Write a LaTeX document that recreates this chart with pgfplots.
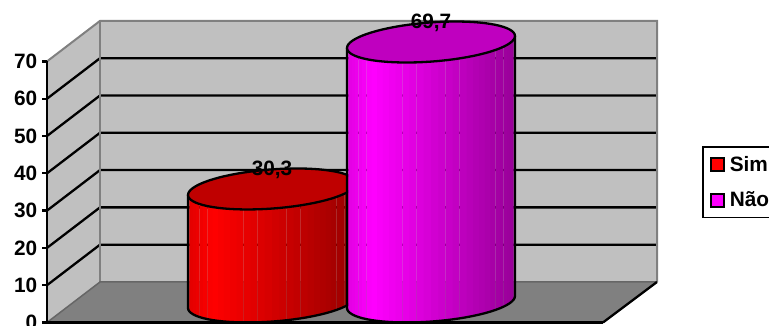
\documentclass[border=0pt]{standalone}
\usepackage{fontspec}
\setmainfont{Liberation Sans}
\usepackage{pgfplots}
\pgfplotsset{compat=1.18}

\definecolor{wall}{HTML}{C0C0C0}
\definecolor{floorgray}{HTML}{808080}
\definecolor{sim}{HTML}{FF0000}
\definecolor{nao}{HTML}{FF00FF}
\newcommand{\chartfont}{\bfseries\fontsize{20.8}{24}\selectfont}

% One 3D cylinder: #1 centre x, #2 value, #3 colour, #4 value text.
% The disc is a tilted ellipse; 5.5 is the depth of the base above the front edge.
\newcommand{\cylinder}[4]{%
  \pgfmathsetmacro{\cyltop}{5.5+#2}%
  \foreach \i in {0,...,35}{%
    \pgfmathsetmacro{\ta}{180+5*\i}%
    \pgfmathsetmacro{\tb}{185+5*\i}%
    \pgfmathsetmacro{\xa}{#1+84*cos(\ta)}%
    \pgfmathsetmacro{\xb}{#1+84*cos(\tb)+ifthenelse(mod(\i,2)==1,0,0.6)}%
    \pgfmathsetmacro{\da}{(6*cos(\ta)+19.6*sin(\ta))/3.73}%
    \pgfmathsetmacro{\db}{(6*cos(\tb)+19.6*sin(\tb))/3.73}%
    \pgfmathsetmacro{\ba}{5.5+\da}%
    \pgfmathsetmacro{\bb}{5.5+\db}%
    \pgfmathsetmacro{\ua}{\cyltop+\da}%
    \pgfmathsetmacro{\ub}{\cyltop+\db}%
    \pgfmathsetmacro{\fr}{(1+cos(\ta+2.5))/2}%
    \pgfmathsetmacro{\pct}{ifthenelse(\fr<0.15,88+80*\fr,100-48*(\fr-0.15))}%
    \edef\temp{\noexpand\addplot[forget plot,draw=none,fill=#3!\pct!black]
      coordinates {(\xa,\ba)(\xa,\ua)(\xb,\ub)(\xb,\bb)} -- cycle;}%
    \temp
  }%
  % base arc with the two sides
  \pgfmathsetmacro{\ys}{\cyltop-6/3.73}%
  \xdef\sidelist{(#1-84,\ys)}%
  \foreach \i in {0,...,36}{%
    \pgfmathsetmacro{\tc}{180+5*\i}%
    \pgfmathsetmacro{\xc}{#1+84*cos(\tc)}%
    \pgfmathsetmacro{\yc}{5.5+(6*cos(\tc)+19.6*sin(\tc))/3.73}%
    \xdef\sidelist{\sidelist (\xc,\yc)}%
  }%
  \pgfmathsetmacro{\ys}{\cyltop+6/3.73}%
  \xdef\sidelist{\sidelist (#1+84,\ys)}%
  \edef\temp{\noexpand\addplot[forget plot,black,line width=2.3pt,line join=round]
    coordinates {\sidelist};}%
  \temp
  % top disc
  \gdef\caplist{}%
  \foreach \i in {0,...,72}{%
    \pgfmathsetmacro{\tc}{5*\i}%
    \pgfmathsetmacro{\xc}{#1+84*cos(\tc)}%
    \pgfmathsetmacro{\yc}{\cyltop+(6*cos(\tc)+19.6*sin(\tc))/3.73}%
    \xdef\caplist{\caplist (\xc,\yc)}%
  }%
  \edef\temp{\noexpand\addplot[forget plot,black,line width=2.3pt,line join=round,fill=#3!75!black]
    coordinates {\caplist} -- cycle;}%
  \temp
  \pgfmathsetmacro{\labely}{#2+9.1}%
  \edef\temp{\noexpand\node[anchor=base,inner sep=0pt,font=\noexpand\chartfont,text=black] at (axis cs:#1,\labely) {#4};}%
  \temp
}

\begin{document}
\begin{tikzpicture}
\path[use as bounding box,clip] (-47pt,-3.5pt) rectangle (722pt,322.5pt);
\begin{axis}[
  scale only axis,
  width=556pt, height=261.1pt,
  xmin=47, xmax=603, ymin=0, ymax=70,
  clip=false,
  axis on top=true,
  axis x line=bottom, axis y line=left,
  axis line style={-,line width=2.3pt,black},
  xtick=\empty,
  ytick={0,10,...,70},
  tick align=outside,
  major tick length=4.5pt,
  tick style={black,line width=2.3pt},
  yticklabel style={font=\chartfont,inner sep=0pt,xshift=-5pt},
  /pgf/number format/assume math mode=true,
  legend style={
    at={(axis cs:702,47.2)},anchor=north west,
    draw=black,line width=1.5pt,
    font=\chartfont,
    inner xsep=7pt,inner ysep=7pt,
    row sep=15pt,
  },
  legend cell align=left,
  legend image code/.code={
    \draw[#1,line width=2pt,draw=black] (0pt,-6.5pt) rectangle (13pt,6.5pt);
  },
]
% back wall, side wall and floor
\addplot[forget plot,draw=none,fill=wall] coordinates {(100,10.86)(100,80.86)(657,80.86)(657,10.86)} -- cycle;
\addplot[forget plot,draw=none,fill=wall] coordinates {(47,0)(47,70)(100,80.86)(100,10.86)} -- cycle;
\addplot[forget plot,draw=none,fill=floorgray] coordinates {(47,0)(100,10.86)(657,10.86)(603,0)} -- cycle;

% gridlines on both walls
\foreach \v in {10,20,...,60}{
  \pgfmathsetmacro{\w}{\v+10.86}
  \edef\temp{\noexpand\addplot[forget plot,black,line width=2.3pt]
    coordinates {(47,\v)(100,\w)(657,\w)};}
  \temp
}

% wall edges
\addplot[forget plot,floorgray,line width=2pt] coordinates {(47,70)(100,80.86)(657,80.86)(657,10.86)};
\addplot[forget plot,floorgray,line width=2pt] coordinates {(100,80.86)(100,10.86)};
\addplot[forget plot,black!60,line width=1.5pt] coordinates {(47,0)(100,10.86)(657,10.86)};
\addplot[forget plot,black,line width=2.3pt] coordinates {(603,0)(657,10.86)};

\cylinder{272}{30.3}{sim}{30,3}
\cylinder{431}{69.7}{nao}{69,7}

\addlegendimage{fill=sim}
\addlegendentry{\hspace*{3pt}Sim}
\addlegendimage{fill=nao}
\addlegendentry{\hspace*{3pt}Não}
\end{axis}
\end{tikzpicture}
\end{document}
